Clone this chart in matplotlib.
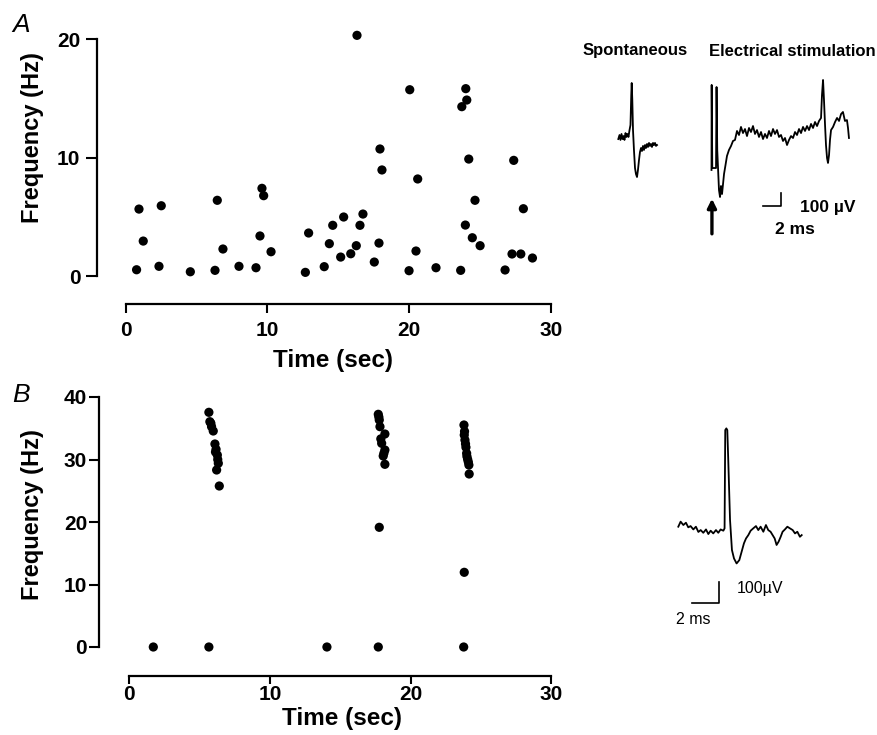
import matplotlib
matplotlib.use('Agg')
import matplotlib.pyplot as plt

plt.rcParams['font.family'] = ['Liberation Sans', 'DejaVu Sans']
plt.rcParams['font.weight'] = 'bold'

# ---------------- data ----------------
# Panel A: spontaneous + evoked firing frequency
A_time = [0.77, 0.94, 1.24, 2.35, 2.51, 4.56, 6.30, 6.46, 6.86, 7.99,
          9.19, 9.47, 9.61, 9.73, 10.25, 12.67, 12.90, 14.00, 14.36, 14.60,
          15.16, 15.37, 15.87, 16.26, 16.31, 16.52, 16.73, 17.53, 17.86, 17.93,
          18.07, 19.98, 20.03, 20.47, 20.59, 21.88, 23.62, 23.70, 23.95, 23.98,
          24.05, 24.19, 24.44, 24.63, 24.99, 26.75, 27.24, 27.36, 27.86, 28.04,
          28.68]
A_freq = [0.53, 5.65, 2.95, 0.82, 5.93, 0.36, 0.48, 6.39, 2.28, 0.82,
          0.70, 3.38, 7.40, 6.78, 2.05, 0.31, 3.63, 0.79, 2.73, 4.28,
          1.60, 4.98, 1.88, 2.56, 20.31, 4.28, 5.23, 1.18, 2.78, 10.72,
          8.95, 0.45, 15.72, 2.11, 8.19, 0.70, 0.48, 14.29, 4.30, 15.81,
          14.85, 9.87, 3.23, 6.39, 2.56, 0.51, 1.86, 9.76, 1.86, 5.68,
          1.52]

# Panel B
B_time = [1.71, 5.66, 14.05, 17.70, 23.77,
          5.66, 5.73, 5.80, 5.85, 5.97, 6.09, 6.13, 6.17, 6.26, 6.29, 6.33, 6.21, 6.40,
          17.70, 17.74, 17.77, 17.82, 18.17, 17.88, 17.94, 18.17, 18.10, 18.05, 18.17, 17.77,
          23.79, 23.83, 23.81, 23.86, 23.90, 23.93, 23.98, 24.00, 24.05, 24.10, 24.14, 24.16, 23.81]
B_freq = [0.0, 0.0, 0.0, 0.0, 0.0,
          37.55, 36.05, 35.80, 35.25, 34.56, 32.48, 31.20, 31.63, 30.72, 30.00, 29.39, 28.32, 25.76,
          37.23, 36.80, 36.32, 35.25, 34.08, 33.30, 32.59, 31.52, 31.00, 30.56, 29.23, 19.15,
          35.52, 34.50, 33.92, 33.12, 32.50, 31.95, 30.99, 30.50, 30.03, 29.60, 29.12, 27.68, 11.95]

xticks = [0, 10, 20, 30]
A_yticks = [0, 10, 20]
B_yticks = [0, 10, 20, 30, 40]

# Traces (time in ms from trace start, voltage in uV from baseline)
S_t = [0.00, 0.14, 0.25, 0.37, 0.48, 0.60, 0.71, 0.83, 0.94, 1.06, 1.17, 1.29, 1.40, 1.49,
       1.54, 1.61, 1.69, 1.80, 1.92, 2.03, 2.15, 2.26, 2.38, 2.49, 2.61, 2.72, 2.84, 2.95,
       3.07, 3.18, 3.30, 3.41, 3.53, 3.64, 3.76, 3.87, 3.99, 4.10, 4.22, 4.33, 4.45]
S_v = [-8, 23, -15, 31, -8, 15, -15, 38, 8, 31, 8, 61, 100, 331,
       423, 292, 61, -92, -231, -277, -300, -246, -169, -108, -77, -100, -61, -92,
       -54, -77, -46, -69, -38, -61, -46, -69, -38, -54, -38, -61, -54]

E_t = [0.00, 0.02, 0.09, 0.52, 0.58, 0.66, 0.86, 0.98, 1.09, 1.21, 1.44, 1.61, 1.78, 2.01, 2.24, 2.47,
       2.70, 2.93, 3.16, 3.39, 3.62, 3.85, 4.08, 4.31, 4.54, 4.77,
       5.00, 5.23, 5.46, 5.69, 5.92, 6.15, 6.38, 6.61, 6.84, 7.07,
       7.30, 7.53, 7.76, 7.99, 8.22, 8.45, 8.68, 8.91, 9.14, 9.37,
       9.60, 9.83, 10.06, 10.29, 10.52, 10.75, 10.98, 11.21, 11.44, 11.67,
       11.90, 12.13, 12.36,
       12.59, 12.70, 12.82, 12.93, 13.05, 13.16, 13.28, 13.39, 13.51, 13.62, 13.74,
       13.97, 14.20, 14.43, 14.66, 14.89, 15.11, 15.34, 15.57, 15.69, 15.80]
E_v = [-269, 385, -254, -254, 369, -115, -423, -477, -392, -454, -300, -231, -161, -115, -85, -46,
       -38, 31, 0, 62, 15, 46, -8, 54, 23, 69,
       8, 38, -15, 23, -31, 8, -23, 31, -8, 46,
       8, 38, -15, 0, -46, -23, -77, -38, -8, -23,
       23, 0, 46, 15, 62, 31, 69, 38, 85, 54,
       100, 69, 108,
       131, 308, 423, 269, 77, -77, -177, -215, -154, -38, 38,
       62, 100, 131, 108, 161, 177, 108, 115, 54, -23]

P_t = [0.00, 0.17, 0.37, 0.56, 0.73, 0.90, 1.10, 1.29, 1.47, 1.64,
       1.83, 2.03, 2.20, 2.37, 2.56, 2.76, 2.93, 3.10, 3.30, 3.39,
       3.44, 3.52, 3.59, 3.66, 3.79, 3.93,
       4.08, 4.27, 4.47, 4.64, 4.81, 4.96, 5.13, 5.30, 5.49, 5.69,
       5.86, 6.03, 6.23, 6.42, 6.59, 6.76, 6.91, 7.06, 7.20, 7.35,
       7.50, 7.64, 7.81, 7.99, 8.18, 8.38, 8.55, 8.72, 8.91, 9.04]
P_v = [0, 24, 8, 19, -3, 3, -13, 0, -25, -16,
       -29, -13, -35, -19, -32, -16, -29, -13, -19, -8,
       460, 468, 460, 317, 32, -111,
       -151, -175, -159, -119, -79, -56, -40, -19, -8, 3,
       -16, 0, -24, 8, -16, -24, -40, -56, -87, -71,
       -48, -24, -13, 0, -8, -16, -32, -24, -48, -40]

# ---------------- figure ----------------
W, H = 878, 735
fig = plt.figure(figsize=(W / 100, H / 100), dpi=100)


def px_axes(left, top, right, bottom):
    return fig.add_axes([left / W, 1 - bottom / H, (right - left) / W, (bottom - top) / H])


def style_axes(ax, ymax, ylen, xlen, ypad, xpad):
    for s in ('top', 'right'):
        ax.spines[s].set_visible(False)
    for s in ('left', 'bottom'):
        ax.spines[s].set_linewidth(1.6)
    ax.spines['left'].set_bounds(0, ymax)
    ax.spines['bottom'].set_bounds(0, 30)
    ax.set_xticks(xticks)
    ax.tick_params(axis='y', direction='out', length=ylen, width=1.5, labelsize=15, pad=ypad)
    ax.tick_params(axis='x', direction='out', length=xlen, width=1.5, labelsize=15, pad=xpad)
    for lbl in ax.get_xticklabels() + ax.get_yticklabels():
        lbl.set_fontweight('bold')


# Panel A scatter
axA = px_axes(97, 30, 555, 304)
axA.scatter(A_time, A_freq, s=44, color='black', edgecolors='none', zorder=3, clip_on=False)
axA.set_xlim(-2.02, 30.27)
axA.set_ylim(-2.36, 20.76)
axA.set_yticks(A_yticks)
style_axes(axA, 20, 8, 6.5, 4, 6)

# Panel B scatter
axB = px_axes(99, 392, 555, 676)
axB.scatter(B_time, B_freq, s=44, color='black', edgecolors='none', zorder=3, clip_on=False)
axB.set_xlim(-2.15, 30.26)
axB.set_ylim(-4.64, 40.8)
axB.set_yticks(B_yticks)
style_axes(axB, 40, 7, 6, 1.5, 0.5)

# axis labels and panel letters
fig.text(333 / W, 1 - 360 / H, 'Time (sec)', ha='center', va='center', fontsize=17.5, fontweight='bold')
fig.text(342 / W, 1 - 718 / H, 'Time (sec)', ha='center', va='center', fontsize=17.5, fontweight='bold')
fig.text(33 / W, 1 - 138 / H, 'Frequency (Hz)', ha='center', va='center', rotation=90,
         fontsize=17, fontweight='bold')
fig.text(33 / W, 1 - 515 / H, 'Frequency (Hz)', ha='center', va='center', rotation=90,
         fontsize=17, fontweight='bold')
fig.text(21 / W, 1 - 25 / H, 'A', ha='center', va='center', fontsize=19, style='italic', fontweight='normal')
fig.text(21 / W, 1 - 395 / H, 'B', ha='center', va='center', fontsize=19, style='italic', fontweight='normal')


# ---------------- traces ----------------
def trace_axes(left, top, right, bottom, px_per_ms, uv_per_px):
    ax = px_axes(left, top, right, bottom)
    ax.set_xlim(0, (right - left) / px_per_ms)
    ax.set_ylim(0, (bottom - top) * uv_per_px)
    ax.axis('off')

    def place(ox, oy):
        return (ox - left) / px_per_ms, (bottom - oy) * uv_per_px
    return ax, place


# Panel A traces
axTA, placeA = trace_axes(600, 60, 878, 250, 8.7, 7.69)
st0, sv0 = placeA(618.3, 138)
axTA.plot([t + st0 for t in S_t], [v + sv0 for v in S_v], color='black', lw=1.3)
et0, ev0 = placeA(711.5, 135)
axTA.plot([t + et0 for t in E_t], [v + ev0 for v in E_v], color='black', lw=1.3)
axTA.annotate('', xy=(et0 + 0.05, ev0 - 490), xytext=(et0 + 0.05, ev0 - 760),
              arrowprops=dict(arrowstyle='-|>', color='black', lw=2.4, mutation_scale=13,
                              shrinkA=0, shrinkB=0))
# scale bar: 2 ms x 100 uV
axTA.plot([et0 + 5.95, et0 + 7.95, et0 + 7.95], [ev0 - 544, ev0 - 544, ev0 - 444],
          color='black', lw=1.2)
axTA.text(et0 + 10.17, ev0 - 554, '100 µV', ha='left', va='center', fontsize=12.5, fontweight='bold')
axTA.text(et0 + 9.54, ev0 - 725, '2 ms', ha='center', va='center', fontsize=12.5, fontweight='bold')
fig.text(635 / W, 1 - 51 / H, 'Spontaneous', ha='center', va='center', fontsize=12, fontweight='bold')
fig.text(792 / W, 1 - 51 / H, 'Electrical stimulation', ha='center', va='center', fontsize=12,
         fontweight='bold')

# Panel B trace
axTB, placeB = trace_axes(650, 400, 840, 640, 13.65, 4.76)
pt0, pv0 = placeB(678.3, 526.7)
axTB.plot([t + pt0 for t in P_t], [v + pv0 for v in P_v], color='black', lw=1.3)
axTB.plot([pt0 + 0.98, pt0 + 2.98, pt0 + 2.98], [pv0 - 362, pv0 - 362, pv0 - 262],
          color='black', lw=1.2)
axTB.text(pt0 + 4.28, pv0 - 292, '100µV', ha='left', va='center', fontsize=11.5, fontweight='normal')
axTB.text(pt0 + 1.08, pv0 - 444, '2 ms', ha='center', va='center', fontsize=11.5, fontweight='normal')

fig.savefig('out.png', dpi=100)
